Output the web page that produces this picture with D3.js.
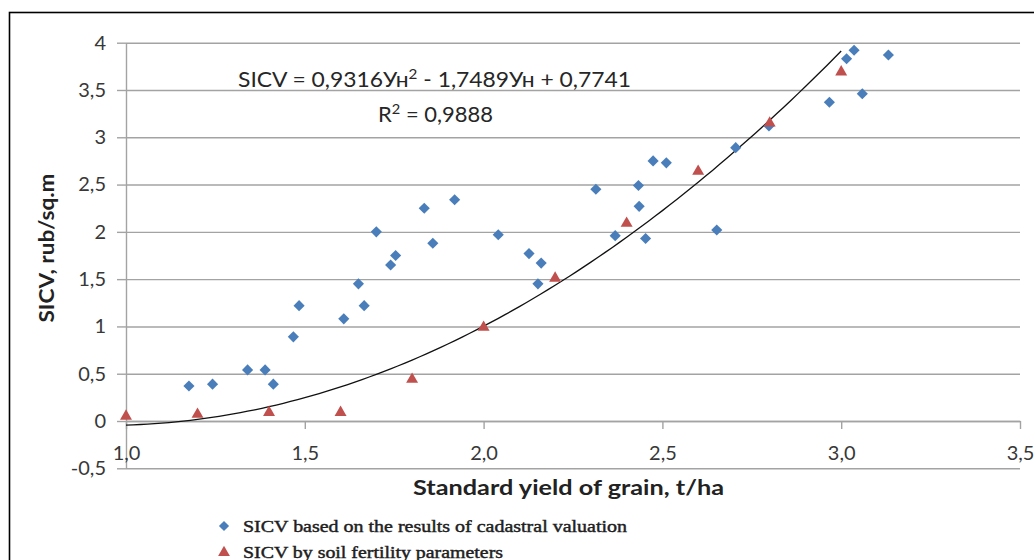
<!DOCTYPE html>
<html>
<head>
<meta charset="utf-8">
<script src="https://cdn.jsdelivr.net/npm/d3@7"></script>
<style>
  body { margin: 0; background: #fff; }
  svg { display: block; }
</style>
</head>
<body>
<svg class="svgWrapper" width="1034" height="560"></svg>
<script>

// blue diamonds - SICV based on the results of cadastral valuation
const cadastralX = [1.176, 1.242, 1.340, 1.389, 1.412, 1.468, 1.484, 1.609, 1.650, 1.666,
	1.700, 1.740, 1.754, 1.834, 1.858, 1.919, 2.041, 2.127, 2.161, 2.152,
	2.314, 2.433, 2.435, 2.368, 2.453, 2.474, 2.511, 2.652, 2.705, 2.798,
	2.967, 3.059, 3.015, 3.036, 3.132];
const cadastralY = [0.37, 0.39, 0.54, 0.54, 0.39, 0.89, 1.22, 1.08, 1.45, 1.22,
	2.00, 1.65, 1.75, 2.25, 1.88, 2.34, 1.97, 1.77, 1.67, 1.45,
	2.45, 2.49, 2.27, 1.96, 1.93, 2.75, 2.73, 2.02, 2.89, 3.12,
	3.37, 3.46, 3.83, 3.92, 3.87];

// red triangles - SICV by soil fertility parameters
const soilX = [1.0, 1.2, 1.4, 1.6, 1.8, 2.0, 2.2, 2.4, 2.6, 2.8, 3.0];
const soilY = [0.05, 0.07, 0.09, 0.09, 0.44, 0.99, 1.51, 2.09, 2.64, 3.15, 3.69];

// polynomial trend (from the equation printed on the chart)
const trendCoef = [0.9316, -1.7489, 0.7741];
const trendRange = [1.0, 3.0];

const xTicks = [1.0, 1.5, 2.0, 2.5, 3.0, 3.5];
const yTicks = [-0.5, 0, 0.5, 1, 1.5, 2, 2.5, 3, 3.5, 4];

const legendLabels = ['SICV based on the results of cadastral valuation', 'SICV by soil fertility parameters'];

const blue = '#4a7ebb';
const red = '#c0504d';
const gridCol = '#a3a3a3';
const sans = "Lato, 'Open Sans', sans-serif";

const locale = d3.formatLocale({decimal: ',', thousands: ' ', grouping: [3], currency: ['', ''], minus: '-'});
const fmtX = locale.format('.1f');
const fmtY = v => locale.format('~g')(v);

const svgObj = d3.select('.svgWrapper');

// outer frame
svgObj.append('rect')
	.attr('x', 9.5).attr('y', 12.5)
	.attr('width', 1100).attr('height', 600)
	.attr('fill', 'none').attr('stroke', '#000').attr('stroke-width', 1.6);

const x = d3.scaleLinear().domain([1, 3.5]).range([126, 1020]);
const y = d3.scaleLinear().domain([-0.5, 4]).range([468.3, 42.7]);

// gridlines
const gridG = svgObj.append('g').attr('transform', 'translate(126,0)')
	.call(d3.axisLeft(y).tickValues(yTicks).tickSize(-(1020 - 126)).tickFormat(''));
gridG.select('.domain').remove();
gridG.selectAll('line').attr('stroke', gridCol).attr('stroke-width', 1.4);

// y axis
const yAxisG = svgObj.append('g').attr('transform', 'translate(126,0)')
	.call(d3.axisLeft(y).tickValues(yTicks).tickSize(9).tickSizeOuter(0).tickPadding(11).tickFormat(fmtY));
yAxisG.select('.domain').attr('stroke', gridCol).attr('stroke-width', 1.4);
yAxisG.selectAll('line').attr('stroke', gridCol).attr('stroke-width', 1.4);
yAxisG.selectAll('text').attr('font-family', sans).attr('font-size', 20).attr('fill', '#383838');

// x axis at y = 0
const xAxisG = svgObj.append('g').attr('transform', `translate(0,${y(0)})`)
	.call(d3.axisBottom(x).tickValues(xTicks).tickSize(8).tickSizeOuter(0).tickFormat(fmtX));
xAxisG.select('.domain').attr('stroke', gridCol).attr('stroke-width', 1.4);
xAxisG.selectAll('line').attr('stroke', gridCol).attr('stroke-width', 1.4);
xAxisG.selectAll('text')
	.attr('font-family', sans).attr('font-size', 20).attr('fill', '#383838')
	.attr('y', 39).attr('dy', 0);

// trend line
const trendFn = v => trendCoef[0] * v * v + trendCoef[1] * v + trendCoef[2];
const trendPts = d3.range(0, 101).map(i => trendRange[0] + (trendRange[1] - trendRange[0]) * i / 100);
svgObj.append('path')
	.datum(trendPts)
	.attr('d', d3.line().x(d => x(d)).y(d => y(trendFn(d))))
	.attr('fill', 'none').attr('stroke', '#111').attr('stroke-width', 1.3);

// markers
const diamondPath = d3.symbol(d3.symbolSquare, 62)();
const trianglePath = d3.symbol(d3.symbolTriangle, 62)();

svgObj.append('g').selectAll('path')
	.data(d3.zip(cadastralX, cadastralY))
	.join('path')
	.attr('d', diamondPath)
	.attr('transform', d => `translate(${x(d[0])},${y(d[1])}) rotate(45)`)
	.attr('fill', blue);

svgObj.append('g').selectAll('path')
	.data(d3.zip(soilX, soilY))
	.join('path')
	.attr('d', trianglePath)
	.attr('transform', d => `translate(${x(d[0])},${y(d[1])})`)
	.attr('fill', red);

// equation
const eq = svgObj.append('text')
	.attr('x', 238).attr('y', 87)
	.attr('font-family', sans).attr('font-size', 21).attr('fill', '#262626')
	.attr('textLength', 393).attr('lengthAdjust', 'spacingAndGlyphs');
eq.append('tspan').text('SICV = 0,9316Ун');
eq.append('tspan').attr('font-size', 14).attr('dy', -8).text('2');
eq.append('tspan').attr('dy', 8).text(' - 1,7489Ун + 0,7741');

const r2 = svgObj.append('text')
	.attr('x', 378).attr('y', 122)
	.attr('font-family', sans).attr('font-size', 21).attr('fill', '#262626')
	.attr('textLength', 115).attr('lengthAdjust', 'spacingAndGlyphs');
r2.append('tspan').text('R');
r2.append('tspan').attr('font-size', 14).attr('dy', -8).text('2');
r2.append('tspan').attr('dy', 8).text(' = 0,9888');

// axis titles
svgObj.append('text')
	.attr('x', 568.5).attr('y', 495)
	.attr('text-anchor', 'middle')
	.attr('font-family', sans).attr('font-size', 21).attr('font-weight', 'bold').attr('fill', '#222')
	.attr('textLength', 311).attr('lengthAdjust', 'spacingAndGlyphs')
	.text('Standard yield of grain, t/ha');

svgObj.append('text')
	.attr('transform', 'translate(54,248) rotate(-90)')
	.attr('text-anchor', 'middle')
	.attr('font-family', sans).attr('font-size', 21).attr('font-weight', 'bold').attr('fill', '#222')
	.attr('textLength', 149).attr('lengthAdjust', 'spacingAndGlyphs')
	.text('SICV, rub/sq.m');

// legend
const legendG = svgObj.append('g').attr('transform', 'translate(224,526)');
const legendRows = legendG.selectAll('g')
	.data(legendLabels)
	.join('g')
	.attr('transform', (d, i) => `translate(0,${i * 25.5})`);

legendRows.append('path')
	.attr('d', (d, i) => i === 0 ? d3.symbol(d3.symbolSquare, 52)() : d3.symbol(d3.symbolTriangle, 60)())
	.attr('transform', (d, i) => i === 0 ? 'rotate(45)' : 'translate(0,1)')
	.attr('fill', (d, i) => i === 0 ? blue : red);

legendRows.append('text')
	.attr('x', 19).attr('y', 6)
	.attr('font-family', "'Liberation Serif', 'DejaVu Serif', serif")
	.attr('font-size', 17).attr('fill', '#1e1e1e')
	.attr('stroke', '#1e1e1e').attr('stroke-width', 0.45)
	.attr('textLength', (d, i) => i === 0 ? 384 : 260)
	.attr('lengthAdjust', 'spacingAndGlyphs')
	.text(d => d);

</script>
</body>
</html>
